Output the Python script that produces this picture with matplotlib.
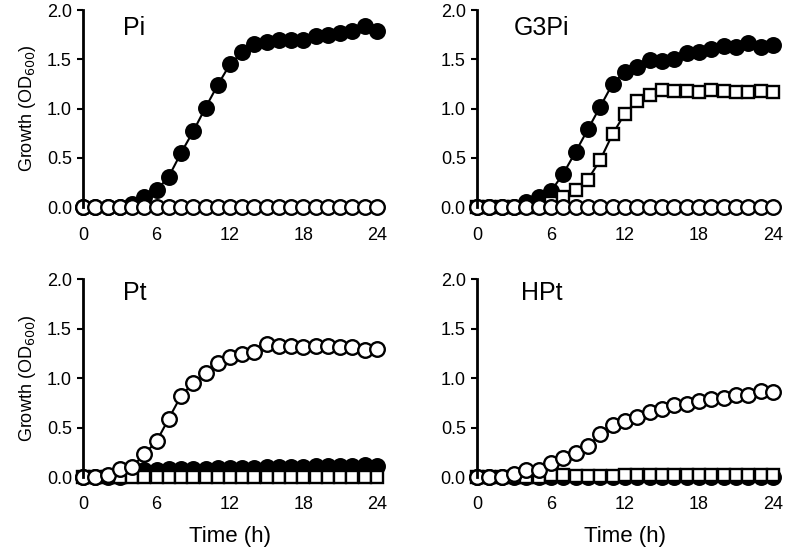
import numpy as np
import matplotlib
matplotlib.use("Agg")
import matplotlib.pyplot as plt

plt.rcParams['font.family'] = ['Liberation Sans', 'DejaVu Sans']

hours = list(range(25))

# Pi
pi_filled = [0, 0, 0, 0, 0.03, 0.10, 0.17, 0.31, 0.55, 0.77, 1.01, 1.24, 1.45, 1.57, 1.66,
             1.68, 1.70, 1.70, 1.70, 1.74, 1.75, 1.77, 1.79, 1.84, 1.79]
pi_open = [0] * 25

# G3Pi
g3pi_filled = [0, 0, 0, 0, 0.05, 0.10, 0.16, 0.34, 0.56, 0.79, 1.02, 1.25, 1.37, 1.42, 1.49,
               1.48, 1.50, 1.56, 1.57, 1.60, 1.64, 1.62, 1.67, 1.63, 1.65]
g3pi_square = [0, 0, 0, 0, 0, 0, 0.04, 0.10, 0.17, 0.28, 0.48, 0.74, 0.95, 1.08, 1.14,
               1.19, 1.18, 1.18, 1.17, 1.19, 1.18, 1.17, 1.17, 1.18, 1.17]
g3pi_open = [0] * 25

# Pt
pt_open = [0, 0.005, 0.02, 0.08, 0.10, 0.23, 0.36, 0.59, 0.82, 0.95, 1.05, 1.15, 1.21, 1.24, 1.26,
           1.34, 1.32, 1.32, 1.31, 1.32, 1.32, 1.31, 1.31, 1.28, 1.29]
pt_filled = [0, 0, 0, 0, 0.05, 0.07, 0.07, 0.08, 0.08, 0.08, 0.08, 0.09, 0.09, 0.09, 0.09,
             0.10, 0.10, 0.10, 0.10, 0.11, 0.11, 0.11, 0.11, 0.12, 0.11]
pt_square = [0] * 25

# HPt
hpt_open = [0, 0, 0, 0.03, 0.07, 0.07, 0.14, 0.19, 0.24, 0.31, 0.43, 0.53, 0.57, 0.61, 0.66,
            0.69, 0.73, 0.74, 0.77, 0.79, 0.80, 0.83, 0.83, 0.87, 0.86]
hpt_square = [0, 0, 0, 0, 0, 0, 0.02, 0.02, 0.01, 0.01, 0.01, 0.01, 0.02, 0.02, 0.02,
              0.02, 0.02, 0.02, 0.02, 0.02, 0.02, 0.02, 0.02, 0.02, 0.02]
hpt_filled = [0] * 25

fig = plt.figure(figsize=(7.87, 5.57), dpi=100)
boxes = [
    (0.1055, 0.628, 0.3735, 0.354),
    (0.606, 0.628, 0.376, 0.354),
    (0.1055, 0.1436, 0.3735, 0.3554),
    (0.606, 0.1436, 0.376, 0.3554),
]
panels = [
    ("Pi", [("filled", pi_filled), ("open", pi_open)], (0.136, 0.91)),
    ("G3Pi", [("filled", g3pi_filled), ("square", g3pi_square), ("open", g3pi_open)], (0.125, 0.91)),
    ("Pt", [("filled", pt_filled), ("square", pt_square), ("open", pt_open)], (0.136, 0.93)),
    ("HPt", [("filled", hpt_filled), ("square", hpt_square), ("open", hpt_open)], (0.15, 0.93)),
]

styles = {
    "filled": dict(marker='o', mfc='black', ms=10.5),
    "open": dict(marker='o', mfc='white', ms=10.5),
    "square": dict(marker='s', mfc='white', ms=9),
}

for i, (box, (name, series, tpos)) in enumerate(zip(boxes, panels)):
    ax = fig.add_axes(box)
    for kind, vals in series:
        ax.plot(hours, vals, color='black', lw=1.5, mec='black', mew=1.7,
                clip_on=False, **styles[kind])
    ax.set_xlim(0, 24)
    ax.set_ylim(0, 2.0)
    ax.set_xticks([0, 6, 12, 18, 24])
    ax.set_yticks([0, 0.5, 1.0, 1.5, 2.0])
    ax.set_yticklabels(['0.0', '0.5', '1.0', '1.5', '2.0'])
    for s in ['top', 'right', 'bottom']:
        ax.spines[s].set_visible(False)
    ax.spines['left'].set_linewidth(2)
    ax.tick_params(axis='y', length=4, width=1.5, labelsize=13, pad=4)
    ax.tick_params(axis='x', length=0, labelsize=13, pad=14)
    ax.text(tpos[0], tpos[1], name, transform=ax.transAxes, fontsize=18,
            ha='left', va='center')
    if i % 2 == 0:
        ax.set_ylabel('Growth (OD$_{600}$)', fontsize=13, labelpad=6)
    if i >= 2:
        ax.set_xlabel('Time (h)', fontsize=16, labelpad=9)

fig.savefig('out.png', dpi=100)
